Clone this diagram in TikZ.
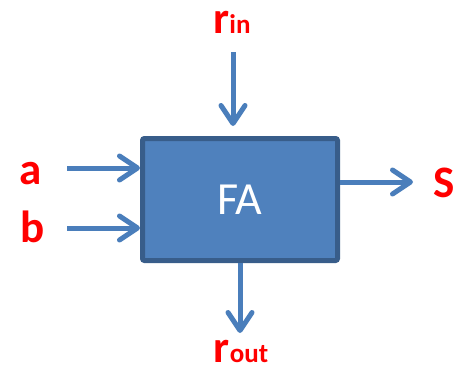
\documentclass[tikz,border=0pt]{standalone}
\usepackage{fontspec}
\setmainfont{Carlito}
\usepackage{tikz}
\usetikzlibrary{arrows.meta}
\definecolor{boxfill}{HTML}{4F81BD}
\definecolor{boxline}{HTML}{385D8A}
\definecolor{wireblue}{HTML}{4A7EBB}
\definecolor{lblred}{HTML}{FF0000}
\begin{document}
\begin{tikzpicture}[x=1pt, y=-1pt,
  fabox/.style={draw=boxline, fill=boxfill, line width=5pt, rounded corners=2pt, minimum width=195pt, minimum height=122pt, text=white, font=\fontsize{46}{46}\selectfont},
  wire/.style={wireblue, line width=5pt, -{Straight Barb[length=18pt, width=24pt, line cap=round, line join=round]}},
  lbl/.style={text=lblred, anchor=base, inner sep=0pt, font=\bfseries\fontsize{45}{45}\selectfont}]
\useasboundingbox (0,0) rectangle (465,367);
\node[fabox] (fa) at (240,199.5) {FA};
\node[lbl] (a) at (30.5,184) {a};
\node[lbl] (b) at (32.5,242) {b};
\node[lbl] (s) at (444.5,197) {S};
\node[lbl] (rin) at (232,33) {r{\fontsize{27}{27}\selectfont in}};
\node[lbl] (rout) at (241,362.5) {r{\fontsize{27}{27}\selectfont out}};
\coordinate (a-in) at (67,168);
\coordinate (b-in) at (67,228);
\coordinate (s-out) at (413,182);
\coordinate (rin-top) at (233,52);
\coordinate (rin-tip) at (233,126);
\coordinate (rout-tip) at (240,333);
\draw[wire] (a-in) -- (a-in -| fa.west);
\draw[wire] (b-in) -- (b-in -| fa.west);
\draw[wire] (fa.east |- s-out) -- (s-out);
\draw[wire] (rin-top) -- (rin-tip);
\draw[wire] (fa.south) -- (rout-tip);
\end{tikzpicture}
\end{document}
